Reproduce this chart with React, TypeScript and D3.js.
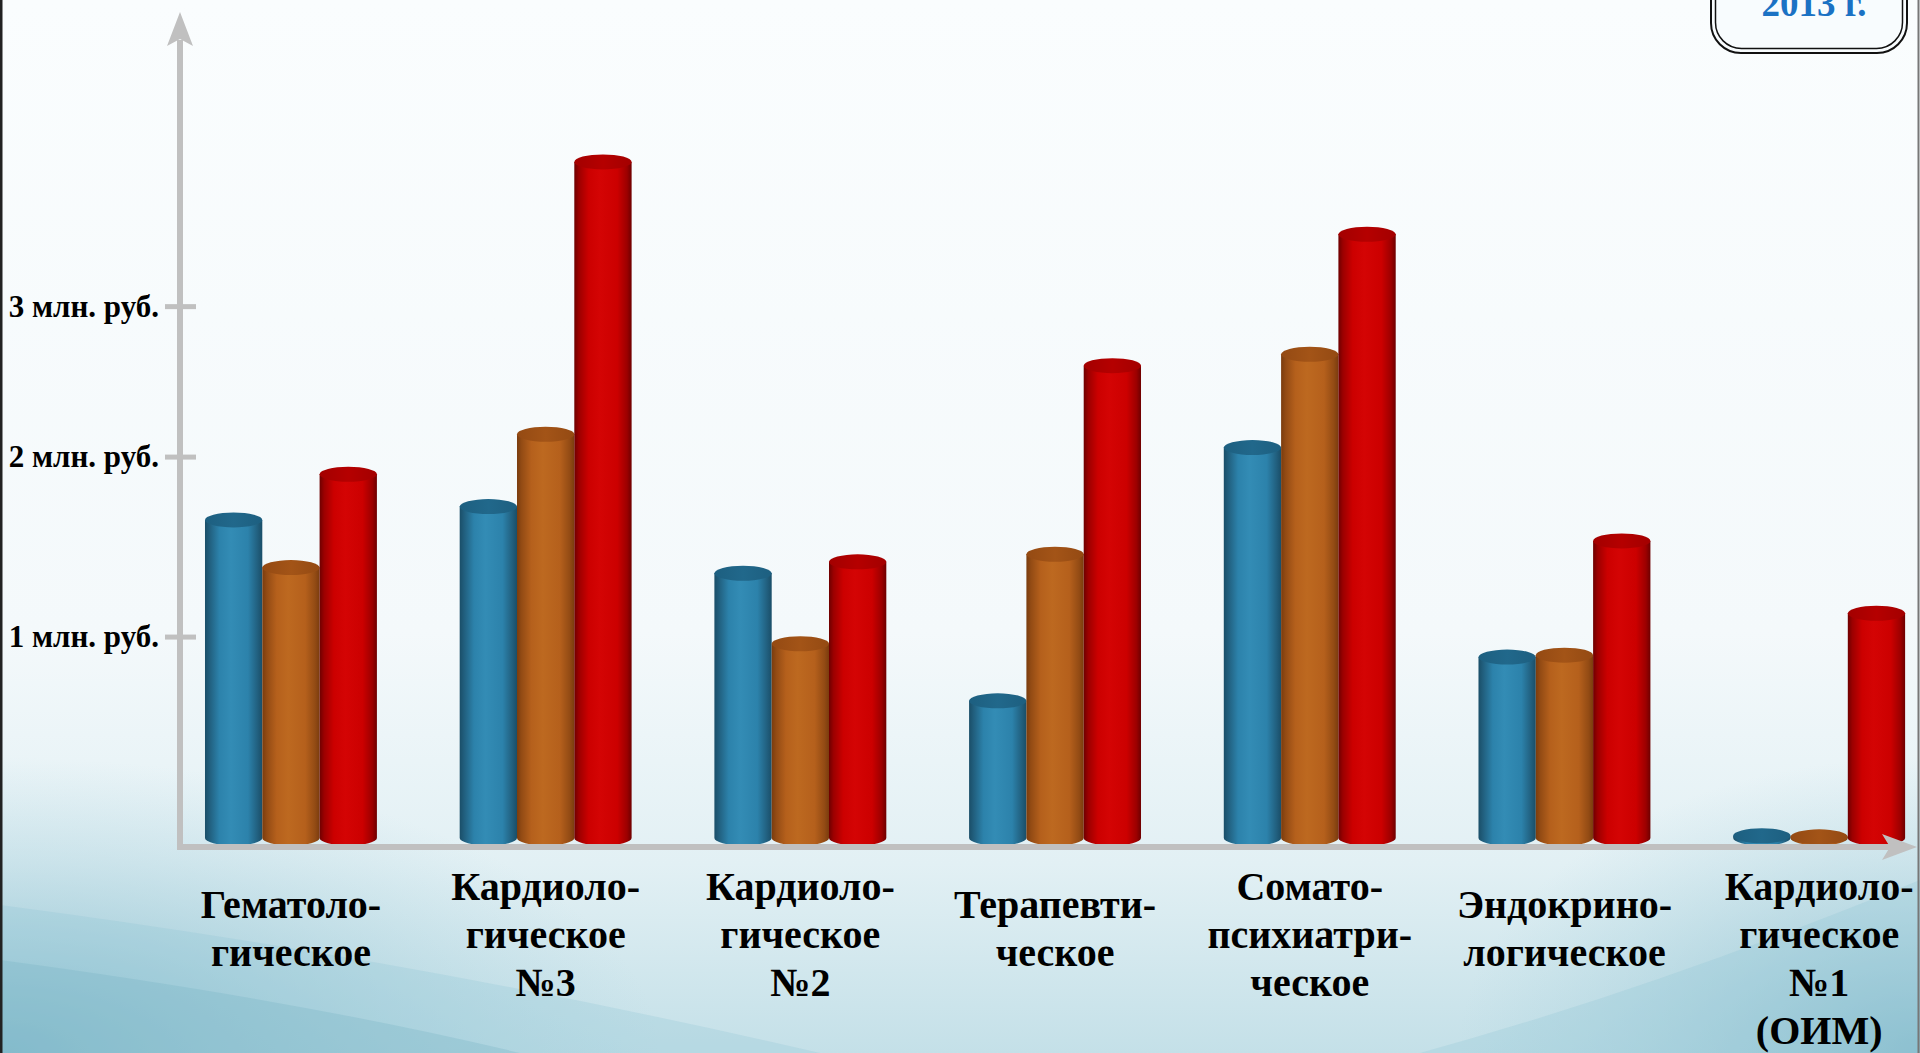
import React from "react";
import * as d3 from "d3";

// Departments (categories) and their wrapped captions
const departments = [
  "Гематологическое",
  "Кардиологическое №3",
  "Кардиологическое №2",
  "Терапевтическое",
  "Соматопсихиатрическое",
  "Эндокринологическое",
  "Кардиологическое №1 (ОИМ)",
];
const departmentCaptions = [
  ["Гематоло-", "гическое"],
  ["Кардиоло-", "гическое", "№3"],
  ["Кардиоло-", "гическое", "№2"],
  ["Терапевти-", "ческое"],
  ["Сомато-", "психиатри-", "ческое"],
  ["Эндокрино-", "логическое"],
  ["Кардиоло-", "гическое", "№1", "(ОИМ)"],
];

// Series (years) and values, млн. руб.
const years = ["2011", "2012", "2013"];
const values2011 = [1.67, 1.74, 1.39, 0.72, 2.05, 0.95, 0.012];
const values2012 = [1.42, 2.12, 1.02, 1.49, 2.54, 0.96, 0.006];
const values2013 = [1.91, 3.55, 1.45, 2.48, 3.17, 1.56, 1.18];
const seriesValues = [values2011, values2012, values2013];

// Axis annotations
const yTickValues = [1.055, 2, 2.79];
const yTickLabels = ["1 млн. руб.", "2 млн. руб.", "3 млн. руб."];
const yearBadge = "2013 г.";

const W = 1920;
const H = 1053;

const palette = [
  { edge: "#1a4e68", dark: "#215f7e", mid: "#2c82ab", light: "#338cb5", top: "#21688b", topIn: "#1d5f80" },
  { edge: "#7a3c0e", dark: "#934b14", mid: "#b5601c", light: "#bd6920", top: "#a35417", topIn: "#944a13" },
  { edge: "#6e0000", dark: "#9c0000", mid: "#cc0000", light: "#d40404", top: "#b50000", topIn: "#a30000" },
];

export default function App() {
  const ry = 7.5;
  const y = d3.scaleLinear().domain([0, 4.4]).range([838, 0]);
  const x = d3
    .scaleBand<string>()
    .domain(departments)
    .range([163.6, 1946.5])
    .paddingInner(0.325)
    .paddingOuter(0.1625);
  const xs = d3.scaleBand<string>().domain(years).range([0, x.bandwidth()]);

  const axisX = 180;
  const axisY = y(0) + ry + 1.5;
  const axisColor = "#c0c0c0";

  const cylinders: React.ReactNode[] = [];
  departments.forEach((dep, i) => {
    years.forEach((yr, s) => {
      const v = seriesValues[s][i];
      const x0 = (x(dep) ?? 0) + (xs(yr) ?? 0);
      const w = xs.bandwidth();
      const rx = w / 2;
      const yb = y(0);
      const yt = y(v);
      const body = `M${x0},${yt} L${x0},${yb} A${rx},${ry} 0 0 0 ${x0 + w},${yb} L${x0 + w},${yt} Z`;
      cylinders.push(
        <g key={`${i}-${s}`}>
          <path d={body} fill={`url(#body${s})`} />
          <ellipse cx={x0 + rx} cy={yt} rx={rx} ry={ry} fill={`url(#top${s})`} />
        </g>
      );
    });
  });

  const fontSerif = "'Liberation Serif', 'Times New Roman', serif";
  const lineGap = 48;

  return (
    <svg
      width={W}
      height={H}
      viewBox={`0 0 ${W} ${H}`}
      style={{ position: "absolute", left: 0, top: 0, display: "block" }}
    >
      <defs>
        <linearGradient id="bg" x1="0" y1="0" x2="0" y2="1">
          <stop offset="0" stopColor="#fafdfe" />
          <stop offset="0.6" stopColor="#f4f9fb" />
          <stop offset="0.82" stopColor="#e2f0f4" />
          <stop offset="1" stopColor="#c4e0e8" />
        </linearGradient>
        <radialGradient id="cornerL" cx="0" cy="1" r="0.6">
          <stop offset="0" stopColor="#7fb7c9" stopOpacity="0.85" />
          <stop offset="1" stopColor="#9ccbd9" stopOpacity="0" />
        </radialGradient>
        <radialGradient id="cornerR" cx="1" cy="1" r="0.6">
          <stop offset="0" stopColor="#7fb7c9" stopOpacity="0.8" />
          <stop offset="1" stopColor="#9ccbd9" stopOpacity="0" />
        </radialGradient>
        {palette.map((p, s) => (
          <linearGradient key={`b${s}`} id={`body${s}`} x1="0" y1="0" x2="1" y2="0">
            <stop offset="0" stopColor={p.edge} />
            <stop offset="0.08" stopColor={p.dark} />
            <stop offset="0.25" stopColor={p.mid} />
            <stop offset="0.45" stopColor={p.light} />
            <stop offset="0.75" stopColor={p.mid} />
            <stop offset="0.92" stopColor={p.dark} />
            <stop offset="1" stopColor={p.edge} />
          </linearGradient>
        ))}
        {palette.map((p, s) => (
          <linearGradient key={`t${s}`} id={`top${s}`} x1="0" y1="0" x2="1" y2="0">
            <stop offset="0" stopColor={p.topIn} />
            <stop offset="0.5" stopColor={p.top} />
            <stop offset="1" stopColor={p.topIn} />
          </linearGradient>
        ))}
      </defs>

      {/* slide background */}
      <rect x={0} y={0} width={W} height={H} fill="url(#bg)" />
      <rect x={0} y={560} width={1100} height={493} fill="url(#cornerL)" />
      <rect x={1150} y={560} width={770} height={493} fill="url(#cornerR)" />
      <path d="M0,905 Q420,960 820,1053 L0,1053 Z" fill="#8cc2d2" opacity={0.25} />
      <path d="M0,960 Q300,1000 520,1053 L0,1053 Z" fill="#78b2c5" opacity={0.3} />
      <path d="M1920,880 Q1650,990 1420,1053 L1920,1053 Z" fill="#8cc2d2" opacity={0.25} />
      <line x1={1} y1={0} x2={1} y2={H} stroke="#222" strokeWidth={3} />
      <line x1={1918.5} y1={0} x2={1918.5} y2={H} stroke="#777" strokeWidth={2} />

      {/* bars */}
      {cylinders}

      {/* axes */}
      <line x1={axisX} y1={axisY} x2={axisX} y2={40} stroke={axisColor} strokeWidth={6} />
      <path
        d={`M${axisX},12 L${axisX + 13},46 L${axisX},39 L${axisX - 13},46 Z`}
        fill={axisColor}
      />
      <line x1={axisX - 3} y1={axisY} x2={1890} y2={axisY} stroke={axisColor} strokeWidth={6} />
      <path
        d={`M1917,${axisY} L1882,${axisY - 13} L1890,${axisY} L1882,${axisY + 13} Z`}
        fill={axisColor}
      />

      {/* y ticks */}
      {yTickValues.map((v, k) => (
        <g key={`yt${k}`}>
          <line x1={165} x2={196} y1={y(v)} y2={y(v)} stroke={axisColor} strokeWidth={5} />
          <text
            x={159}
            y={y(v)}
            dy="0.33em"
            textAnchor="end"
            fontFamily={fontSerif}
            fontWeight="bold"
            fontSize={31}
            fill="#000"
          >
            {yTickLabels[k]}
          </text>
        </g>
      ))}

      {/* category captions */}
      {departments.map((dep, i) => {
        const lines = departmentCaptions[i];
        const cx = (x(dep) ?? 0) + x.bandwidth() / 2;
        const first = Math.max(888, 930 - ((lines.length - 1) * lineGap) / 2);
        return (
          <text
            key={`c${i}`}
            x={cx}
            textAnchor="middle"
            fontFamily={fontSerif}
            fontWeight="bold"
            fontSize={40}
            fill="#000"
          >
            {lines.map((ln, j) => (
              <tspan key={j} x={cx} y={first + j * lineGap} dy="0.3em">
                {ln}
              </tspan>
            ))}
          </text>
        );
      })}

      {/* year badge */}
      <g>
        <rect x={1711} y={-40} width={196} height={93} rx={30} ry={30} fill="#f8fcfe" stroke="#111" strokeWidth={2} />
        <rect x={1715.5} y={-40} width={187} height={88.5} rx={26} ry={26} fill="none" stroke="#111" strokeWidth={1.5} />
        <text
          x={1814}
          y={16}
          textAnchor="middle"
          fontFamily={fontSerif}
          fontWeight="bold"
          fontSize={37}
          fill="#1b72c4"
        >
          {yearBadge}
        </text>
      </g>
    </svg>
  );
}
